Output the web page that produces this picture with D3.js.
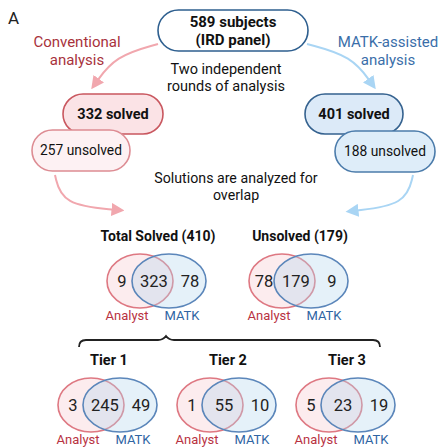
<!DOCTYPE html>
<html>
<head>
<meta charset="utf-8">
<script src="https://cdn.jsdelivr.net/npm/d3@7"></script>
<style>
  body { margin: 0; background: #fff; }
  text { font-family: Roboto, "Noto Sans", sans-serif; }
</style>
</head>
<body>
<div id="chart"></div>
<script>
// data
const topLabel = ["589 subjects", "(IRD panel)"];
const roundsText = ["Two independent", "rounds of analysis"];
const overlapText = ["Solutions are analyzed for", "overlap"];
const armLabels = [["Conventional", "analysis"], ["MATK-assisted", "analysis"]];
const solvedCounts = [332, 401];
const unsolvedCounts = [257, 188];

const overlapTitles = ["Total Solved (410)", "Unsolved (179)"];
const overlapAnalyst = [9, 78];
const overlapShared = [323, 179];
const overlapMatk = [78, 9];

const tierNames = ["Tier 1", "Tier 2", "Tier 3"];
const tierAnalyst = [3, 1, 5];
const tierShared = [245, 55, 23];
const tierMatk = [49, 10, 19];

const setLabels = ["Analyst", "MATK"];

const W = 445, H = 447;
const red = "#b8323f", blue = "#2f65a3";

var svg = d3.select("#chart").append("svg").attr("width", W).attr("height", H);

var defs = svg.append("defs");
var mk = (id, col) => {
    defs.append("marker").attr("id", id).attr("viewBox", "0 0 10 10")
        .attr("refX", 5).attr("refY", 5).attr("markerWidth", 13).attr("markerHeight", 13)
        .attr("markerUnits", "userSpaceOnUse").attr("orient", "auto")
        .append("path").attr("d", "M0,0 L10,5 L0,10 Z").attr("fill", col);
};
mk("ar", "#f1a7ae");
mk("ab", "#a9d5f4");

svg.append("text").attr("x", 8).attr("y", 24).attr("font-size", 17).attr("fill", "#222").text("A");

// pill helper
var pill = (x, y, w, h, fill, stroke, lines, size, weight) => {
    svg.append("rect").attr("x", x).attr("y", y).attr("width", w).attr("height", h)
        .attr("rx", h / 2).attr("fill", fill).attr("stroke", stroke).attr("stroke-width", 1.6);
    lines.forEach((t, i) => {
        svg.append("text").attr("x", x + w / 2)
            .attr("y", y + h / 2 + (i - (lines.length - 1) / 2) * 18 + size * 0.36)
            .attr("text-anchor", "middle").attr("font-size", size).attr("font-weight", weight)
            .attr("fill", "#111").text(t);
    });
};

// arrows
var curve = d3.line().curve(d3.curveBasis);
svg.append("path").attr("d", curve([[158, 44], [115, 56], [95, 84]])).attr("fill", "none")
    .attr("stroke", "#f1a7ae").attr("stroke-width", 2).attr("marker-end", "url(#ar)");
svg.append("path").attr("d", curve([[307, 44], [352, 56], [372, 84]])).attr("fill", "none")
    .attr("stroke", "#a9d5f4").attr("stroke-width", 2).attr("marker-end", "url(#ab)");
svg.append("path").attr("d", curve([[55, 175], [62, 205], [118, 210]])).attr("fill", "none")
    .attr("stroke", "#f1a7ae").attr("stroke-width", 2).attr("marker-end", "url(#ar)");
svg.append("path").attr("d", curve([[413, 175], [406, 205], [352, 211]])).attr("fill", "none")
    .attr("stroke", "#a9d5f4").attr("stroke-width", 2).attr("marker-end", "url(#ab)");

pill(158, 10, 150, 41, "#fff", "#2e5f8f", topLabel, 15, "bold");

armLabels.forEach((lines, k) => {
    lines.forEach((t, i) => {
        svg.append("text").attr("x", k ? 388 : 77).attr("y", 47 + i * 18)
            .attr("text-anchor", "middle").attr("font-size", 15)
            .attr("fill", k ? "#3a6ea9" : "#a8323c").text(t);
    });
});
roundsText.forEach((t, i) => {
    svg.append("text").attr("x", 226).attr("y", 74 + i * 17).attr("text-anchor", "middle")
        .attr("font-size", 14.5).attr("fill", "#111").text(t);
});

pill(63, 94, 100, 40, "#fbe3e6", "#c9575f", [solvedCounts[0] + " solved"], 14.5, "bold");
pill(32, 130, 98, 41, "#fdf1f3", "#dd8c93", [unsolvedCounts[0] + " unsolved"], 13.8, "normal");
pill(305, 94, 98, 40, "#dceaf8", "#35628f", [solvedCounts[1] + " solved"], 14.5, "bold");
pill(335, 131, 100, 41, "#deedf9", "#4c7cab", [unsolvedCounts[1] + " unsolved"], 13.8, "normal");

overlapText.forEach((t, i) => {
    svg.append("text").attr("x", 236).attr("y", 183 + i * 17).attr("text-anchor", "middle")
        .attr("font-size", 14.2).attr("fill", "#111").text(t);
});

// venn helper
var venn = (cx, cy, title, a, s, m, tsize) => {
    svg.append("text").attr("x", cx + 3).attr("y", cy - 40).attr("text-anchor", "middle")
        .attr("font-size", tsize).attr("font-weight", "bold").attr("fill", "#111").text(title);
    svg.append("ellipse").attr("cx", cx - 15).attr("cy", cy).attr("rx", 33).attr("ry", 27)
        .attr("fill", "#fcecee").attr("stroke", "#de7882").attr("stroke-width", 1.6);
    svg.append("ellipse").attr("cx", cx + 14).attr("cy", cy).attr("rx", 37).attr("ry", 27)
        .attr("fill", "rgba(180,215,238,0.35)").attr("stroke", "#5b86ba").attr("stroke-width", 1.6);
    [[a, -33], [s, -1], [m, 35]].forEach(d => {
        svg.append("text").attr("x", cx + d[1]).attr("y", cy + 6).attr("text-anchor", "middle")
            .attr("font-size", 16.5).attr("fill", "#222").text(d[0]);
    });
    setLabels.forEach((t, i) => {
        svg.append("text").attr("x", cx + (i ? 27 : -28)).attr("y", cy + 39).attr("text-anchor", "middle")
            .attr("font-size", 13).attr("fill", i ? blue : red).text(t);
    });
};

var xo = d3.scalePoint().domain(overlapTitles).range([155, 297]);
overlapTitles.forEach((t, i) => venn(xo(t), 281, t, overlapAnalyst[i], overlapShared[i], overlapMatk[i], 14));

var xt = d3.scalePoint().domain(tierNames).range([106, 344]);
tierNames.forEach((t, i) => venn(xt(t), 405, t, tierAnalyst[i], tierShared[i], tierMatk[i], 14.5));

// brace
svg.append("path")
    .attr("d", "M79,347 Q79,340 86,340 L158,340 Q163,340 166,336 Q169,340 174,340 L373,340 Q380,340 380,347")
    .attr("fill", "none").attr("stroke", "#222").attr("stroke-width", 1.8);
</script>
</body>
</html>
